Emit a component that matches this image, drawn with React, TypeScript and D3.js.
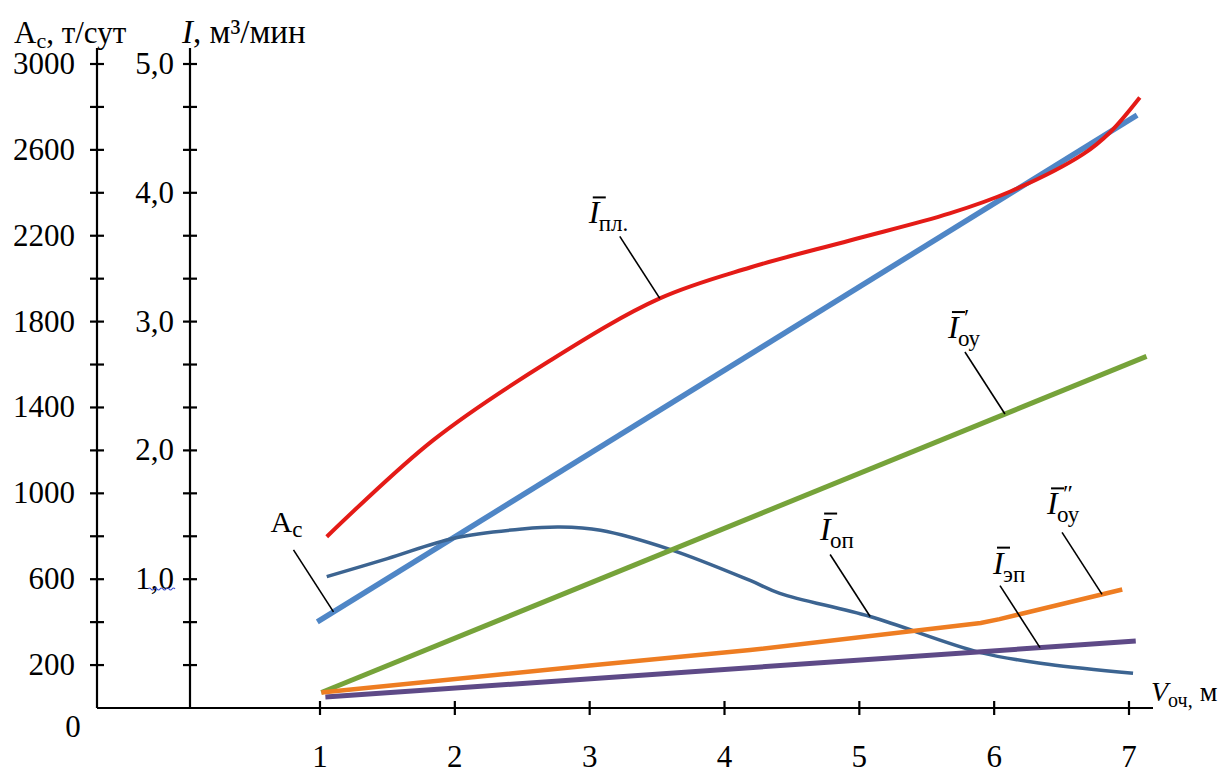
import React from "react";
import * as d3 from "d3";

// ---- data ----
const xTickValues = [1, 2, 3, 4, 5, 6, 7];
const aTickValues = [200, 400, 600, 800, 1000, 1200, 1400, 1600, 1800, 2000, 2200, 2400, 2600, 2800, 3000];
const aLabelValues = [200, 600, 1000, 1400, 1800, 2200, 2600, 3000];
const iLabelValues = [1, 2, 3, 4, 5];

// Ī пл. (m3/min)
const iPl: [number, number][] = [
  [1.05, 1.33], [1.84, 2.08], [2.71, 2.7], [3.52, 3.18], [4.19, 3.42], [4.93, 3.63],
  [5.67, 3.84], [6.12, 4.01], [6.66, 4.3], [6.86, 4.47], [7.08, 4.74],
];
// A c (t/day) straight line
const acLine: [number, number][] = [[0.98, 401], [7.06, 2762]];
// Ī оп (m3/min)
const iOp: [number, number][] = [
  [1.05, 1.02], [1.5, 1.16], [2, 1.32], [2.5, 1.39], [2.78, 1.405], [3.08, 1.38], [3.6, 1.23],
  [4.19, 0.99], [4.41, 0.89], [5.08, 0.71], [5.9, 0.43], [6.4, 0.34], [7.03, 0.27],
];
// Ī' оу
const iOu1: [number, number][] = [[1.01, 0.12], [7.13, 2.73]];
// Ī'' оу
const iOu2: [number, number][] = [[1.01, 0.12], [3, 0.33], [4.19, 0.45], [5.9, 0.66], [6.04, 0.69], [6.95, 0.92]];
// Ī эп
const iEp: [number, number][] = [[1.04, 0.085], [7.05, 0.52]];

const W = 1219, H = 767;
const FONT = "'Liberation Serif', 'Times New Roman', Times, serif";

const x = d3.scaleLinear().domain([1, 7]).range([320, 1129]);
const yA = d3.scaleLinear().domain([0, 3000]).range([708, 64]);
const yI = d3.scaleLinear().domain([0, 5]).range([708, 64]);

const AX_A = 97, AX_I = 190;

function valueAt(s: [number, number][], xv: number) {
  for (let i = 0; i < s.length - 1; i++) {
    const [x0, y0] = s[i], [x1, y1] = s[i + 1];
    if (xv >= x0 && xv <= x1) return y0 + ((xv - x0) / (x1 - x0)) * (y1 - y0);
  }
  return s[s.length - 1][1];
}

const lineI = (curve: d3.CurveFactory) =>
  d3.line<[number, number]>().x((d) => x(d[0])).y((d) => yI(d[1])).curve(curve);
const lineA = d3.line<[number, number]>().x((d) => x(d[0])).y((d) => yA(d[1]));

function ILabel({ px, py, sub, prime }: { px: number; py: number; sub: string; prime?: string }) {
  return (
    <g transform={`translate(${px},${py})`} fontFamily={FONT}>
      <text x={0} y={0} fontSize={32} fontStyle="italic">I</text>
      <line x1={4} x2={17} y1={-26} y2={-26} stroke="#000" strokeWidth={2} />
      {prime && <text x={16} y={-13} fontSize={24}>{prime}</text>}
      <text x={10} y={8} fontSize={23}>{sub}</text>
    </g>
  );
}

export default function App() {
  const leaders = [
    { s: iPl, xv: 3.52, scale: yI, dx: -31, dy: -13, sub: "пл.", prime: "" },
    { s: iOu1, xv: 6.08, scale: yI, dx: -17, dy: -14, sub: "оу", prime: "′" },
    { s: acLine, xv: 1.1, scale: yA, dx: 0, dy: 0, sub: "", prime: "" },
    { s: iOp, xv: 5.08, scale: yI, dx: -10, dy: -15, sub: "оп", prime: "" },
    { s: iEp, xv: 6.34, scale: yI, dx: -7, dy: -12, sub: "эп", prime: "" },
    { s: iOu2, xv: 6.8, scale: yI, dx: -15, dy: -18, sub: "оу", prime: "″" },
  ];

  return (
    <div style={{ position: "fixed", left: 0, top: 0 }}>
      <svg width={W} height={H} style={{ display: "block", background: "#fff" }}>
        {/* axes */}
        <g stroke="#000" strokeWidth={2.2}>
          <line x1={AX_A} x2={AX_A} y1={48} y2={yA(0)} />
          <line x1={AX_I} x2={AX_I} y1={48} y2={yA(0)} />
          <line x1={AX_A} x2={1153} y1={yA(0)} y2={yA(0)} />
          {aTickValues.map((v) => (
            <g key={v}>
              <line x1={AX_A - 7} x2={AX_A + 7} y1={yA(v)} y2={yA(v)} />
              <line x1={AX_I - 7} x2={AX_I + 7} y1={yA(v)} y2={yA(v)} />
            </g>
          ))}
          {xTickValues.map((v) => (
            <line key={v} x1={x(v)} x2={x(v)} y1={yA(0) - 7} y2={yA(0) + 7} />
          ))}
        </g>
        <g fontFamily={FONT} fontSize={31} fill="#000">
          {aLabelValues.map((v) => (
            <text key={v} x={75} y={yA(v) + 10} textAnchor="end">{v}</text>
          ))}
          {iLabelValues.map((v) => (
            <text key={v} x={174} y={yI(v) + 10} textAnchor="end">{v.toFixed(1).replace(".", ",")}</text>
          ))}
          <text x={73} y={737} textAnchor="middle">0</text>
          {xTickValues.map((v) => (
            <text key={v} x={x(v)} y={767} textAnchor="middle">{v}</text>
          ))}
        </g>
        {/* spell-check squiggle under 1,0 */}
        <path d="M148,589 q1.5,-2 3,0 t3,0 t3,0 t3,0 t3,0 t3,0 t3,0 t3,0 t3,0" fill="none" stroke="#3b4fd0" strokeWidth={1.2} />

        {/* axis titles */}
        <g fontFamily={FONT} fill="#000">
          <text x={14} y={43} fontSize={31}>
            A<tspan fontSize={22} dy={5}>c</tspan><tspan dy={-5}>, т/сут</tspan>
          </text>
          <text x={182} y={43} fontSize={33}>
            <tspan fontStyle="italic">I</tspan>, м³/мин
          </text>
          <text x={1151} y={701} fontSize={28}>
            <tspan fontStyle="italic">V</tspan><tspan fontSize={20} dy={6}>оч,</tspan><tspan dy={-6}> м</tspan>
          </text>
        </g>

        {/* curves */}
        <g fill="none" strokeLinecap="butt">
          <path d={lineA(acLine)!} stroke="#4f86c6" strokeWidth={5.5} />
          <path d={lineI(d3.curveCatmullRom.alpha(0.5))(iOp)!} stroke="#3c6491" strokeWidth={3.5} />
          <path d={lineI(d3.curveLinear)(iOu1)!} stroke="#76a33a" strokeWidth={5} />
          <path d={lineI(d3.curveLinear)(iEp)!} stroke="#5e4a87" strokeWidth={5} />
          <path d={lineI(d3.curveLinear)(iOu2)!} stroke="#ee7d22" strokeWidth={4.5} />
          <path d={lineI(d3.curveCatmullRom.alpha(0.5))(iPl)!} stroke="#e41b17" strokeWidth={4} />
        </g>

        {/* leaders and labels */}
        {leaders.map((l, i) => {
          const px = x(l.xv);
          const py = l.scale(valueAt(l.s, l.xv));
          const tx = px - 40, ty = py - 62;
          return (
            <g key={i}>
              <line x1={px} y1={py} x2={tx} y2={ty} stroke="#000" strokeWidth={1.6} />
              {l.sub ? (
                <ILabel px={tx + l.dx} py={ty + l.dy} sub={l.sub} prime={l.prime || undefined} />
              ) : (
                <text x={tx - 23} y={ty - 18} fontFamily={FONT} fontSize={30}>
                  A<tspan fontSize={23} dy={5}>c</tspan>
                </text>
              )}
            </g>
          );
        })}
      </svg>
    </div>
  );
}
